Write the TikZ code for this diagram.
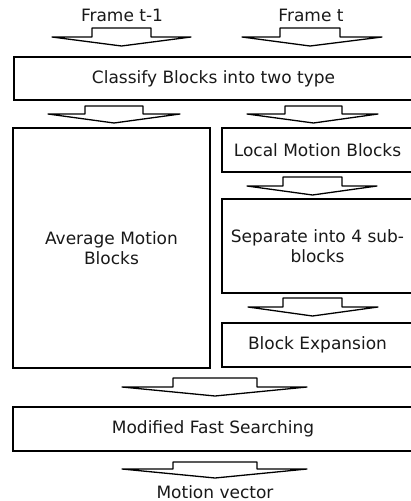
\documentclass[tikz,border=0pt]{standalone}
\usepackage{fontspec}
\setmainfont{DejaVu Sans}
\newcommand{\boxnode}[6]{%
  \node[box, minimum width={#4-#2}, minimum height={#5-#3}] (#1) at (#2,#3) {#6};}
\newcommand{\blockarr}[7]{%
  \draw[blockarrow] (#1,#3) -- (#2,#3) -- (#2,#4) -- (#6,#4) -- ({(#1+#2)/2},#7) -- (#5,#4) -- (#1,#4) -- cycle;}
\begin{document}
\begin{tikzpicture}[x=1pt,y=-1pt,
  box/.style={draw, line width=1.8pt, align=center, inner sep=0pt, outer sep=0pt,
    anchor=north west, font=\fontsize{17}{20}\selectfont, text=black!90},
  lbl/.style={inner sep=0pt, font=\fontsize{17}{20}\selectfont, text=black!90},
  blockarrow/.style={draw, line width=1.3pt, fill=white, line join=round}]
\useasboundingbox (0,0) rectangle (411,501);
\fill[white] (0,0) rectangle (411,501);
% labels
\node[lbl] (ft1) at (122,15) {Frame t-1};
\node[lbl] (ft) at (311,15) {Frame t};
\node[lbl] (mv) at (215,492) {Motion vector};
% boxes
\boxnode{classify}{14}{57}{413}{100}{Classify Blocks into two type}
\boxnode{avg}{13}{128}{210}{368}{Average Motion\\Blocks}
\boxnode{local}{222}{128}{413}{172}{Local Motion Blocks}
\boxnode{sep}{222}{199}{413}{293}{Separate into 4 sub-\\blocks}
\boxnode{exp}{222}{323}{413}{367}{Block Expansion}
\boxnode{mfs}{13}{407}{413}{451}{Modified Fast Searching}
% block arrows
\blockarr{92}{151}{28}{37}{52}{191}{46}
\blockarr{280}{340}{28}{37}{242}{382}{46}
\blockarr{85}{143}{106}{114}{48}{180}{123}
\blockarr{285}{342}{106}{114}{247}{378}{123}
\blockarr{283}{342}{177}{186}{247}{377}{195}
\blockarr{283}{342}{298}{307}{248}{378}{316}
\blockarr{173}{257}{378}{387}{122}{307}{396}
\blockarr{173}{257}{462}{469}{122}{307}{478}
\end{tikzpicture}
\end{document}
